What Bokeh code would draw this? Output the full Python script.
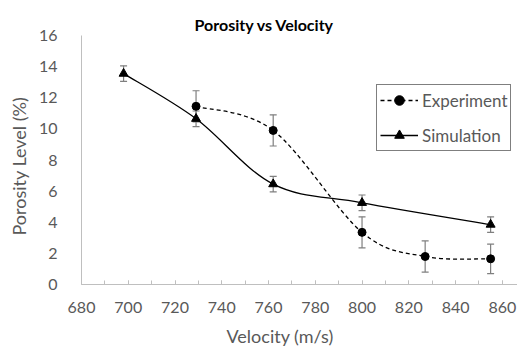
from bokeh.plotting import figure
from bokeh.models import (Range1d, SingleIntervalTicker, Whisker, TeeHead, ColumnDataSource,
                          Legend, LegendItem, Title)
from bokeh.embed import file_html
from bokeh.resources import INLINE

# ---- data ----
velocity_exp = [729, 762, 800, 827, 855]
porosity_exp = [11.45, 9.9, 3.35, 1.8, 1.65]
error_exp = [1.0, 1.0, 1.0, 1.0, 0.95]

velocity_sim = [698, 729, 762, 800, 855]
porosity_sim = [13.55, 10.65, 6.45, 5.25, 3.85]
error_sim = [0.5, 0.5, 0.5, 0.5, 0.5]

x_ticks_step = 20
y_ticks_step = 2

FONT = "Lato"
GRAY_TXT = "#595959"

# layout (pixels)
W, H = 517, 354
LEFT, RIGHT, TOP, BOTTOM = 80, 0, 35, 70
X0, X1, Y0, Y1 = 680, 866.5, 0, 16


def smooth_segments(xs, ys):
    """Catmull-Rom style bezier control points (Excel-like smoothing)."""
    n = len(xs)
    seg = dict(x0=[], y0=[], x1=[], y1=[], cx0=[], cy0=[], cx1=[], cy1=[])
    for i in range(n - 1):
        xa, ya = (xs[i - 1], ys[i - 1]) if i > 0 else (xs[i], ys[i])
        xb, yb = xs[i], ys[i]
        xc, yc = xs[i + 1], ys[i + 1]
        xd, yd = (xs[i + 2], ys[i + 2]) if i + 2 < n else (xc, yc)
        seg["x0"].append(xb); seg["y0"].append(yb)
        seg["x1"].append(xc); seg["y1"].append(yc)
        seg["cx0"].append(xb + (xc - xa) / 6.0); seg["cy0"].append(yb + (yc - ya) / 6.0)
        seg["cx1"].append(xc - (xd - xb) / 6.0); seg["cy1"].append(yc - (yd - yb) / 6.0)
    return ColumnDataSource(seg)


p = figure(width=W, height=H, output_backend="svg", toolbar_location=None,
           x_range=Range1d(X0, X1), y_range=Range1d(Y0, Y1),
           min_border_left=LEFT, min_border_right=RIGHT, min_border_top=TOP,
           min_border_bottom=BOTTOM)
p.outline_line_color = None
p.grid.grid_line_color = None
p.background_fill_color = "white"
p.border_fill_color = "white"

# title
p.title.text = "Porosity vs Velocity"
p.title.text_font = FONT
p.title.text_font_style = "bold"
p.title.text_font_size = "16px"
p.title.text_color = "#000000"
p.title.align = "left"
p.title.offset = 113
p.title.standoff = 3

# x axis
p.xaxis.ticker = SingleIntervalTicker(interval=x_ticks_step, num_minor_ticks=2)
p.xaxis.axis_line_color = "#bfbfbf"
p.xaxis.major_tick_line_color = "#bfbfbf"
p.xaxis.minor_tick_line_color = "#bfbfbf"
p.xaxis.major_tick_in = 4
p.xaxis.major_tick_out = 0
p.xaxis.minor_tick_in = 4
p.xaxis.minor_tick_out = 0
p.xaxis.major_label_text_font = FONT
p.xaxis.major_label_text_font_size = "16px"
p.xaxis.major_label_text_color = GRAY_TXT
p.xaxis.major_label_standoff = 17

# y axis
p.yaxis.ticker = SingleIntervalTicker(interval=y_ticks_step, num_minor_ticks=0)
p.yaxis.axis_line_color = "#bfbfbf"
p.yaxis.major_tick_line_color = None
p.yaxis.minor_tick_line_color = None
p.yaxis.major_label_text_font = FONT
p.yaxis.major_label_text_font_size = "16px"
p.yaxis.major_label_text_color = GRAY_TXT
p.yaxis.major_label_standoff = 18

# axis titles (as side titles so they can sit where the reference shows them)
p.add_layout(Title(text="Velocity (m/s)", align="left", offset=145, standoff=14,
                   text_font=FONT, text_font_size="18px", text_font_style="normal",
                   text_color=GRAY_TXT), "below")
p.add_layout(Title(text="Porosity Level (%)", align="left", offset=49, standoff=11,
                   text_font=FONT, text_font_size="18px", text_font_style="normal",
                   text_color=GRAY_TXT), "left")

# error bars
for xs, ys, es in ((velocity_exp, porosity_exp, error_exp), (velocity_sim, porosity_sim, error_sim)):
    src = ColumnDataSource(dict(x=xs, up=[y + e for y, e in zip(ys, es)],
                                lo=[y - e for y, e in zip(ys, es)]))
    w = Whisker(source=src, base="x", upper="up", lower="lo", dimension="height",
                line_color="#7f7f7f", line_width=1.2,
                upper_head=TeeHead(size=7, line_color="#7f7f7f", line_width=1.2),
                lower_head=TeeHead(size=7, line_color="#7f7f7f", line_width=1.2))
    p.add_layout(w)

# smoothed lines
bez_exp = p.bezier(x0="x0", y0="y0", x1="x1", y1="y1", cx0="cx0", cy0="cy0", cx1="cx1", cy1="cy1",
                   source=smooth_segments(velocity_exp, porosity_exp),
                   line_color="black", line_width=1.3, line_dash="4 3")
bez_sim = p.bezier(x0="x0", y0="y0", x1="x1", y1="y1", cx0="cx0", cy0="cy0", cx1="cx1", cy1="cy1",
                   source=smooth_segments(velocity_sim, porosity_sim),
                   line_color="black", line_width=1.3)

# markers
sc_exp = p.scatter(velocity_exp, porosity_exp, marker="circle", size=8,
                   fill_color="black", line_color="black")
sc_sim = p.scatter(velocity_sim, porosity_sim, marker="triangle", size=9,
                   fill_color="black", line_color="black")

legend = Legend(items=[LegendItem(label="Experiment", renderers=[bez_exp, sc_exp]),
                       LegendItem(label="Simulation", renderers=[bez_sim, sc_sim])],
                location=(295, 133))
legend.border_line_color = "black"
legend.border_line_width = 1
legend.background_fill_alpha = 1
legend.padding = 3
legend.margin = 0
legend.spacing = 11
legend.glyph_height = 24
legend.label_height = 24
legend.glyph_width = 38
legend.label_standoff = 4
legend.label_text_font = FONT
legend.label_text_font_size = "17px"
legend.label_text_color = GRAY_TXT
p.add_layout(legend, "center")

open("out.html", "w").write(file_html(p, INLINE))
